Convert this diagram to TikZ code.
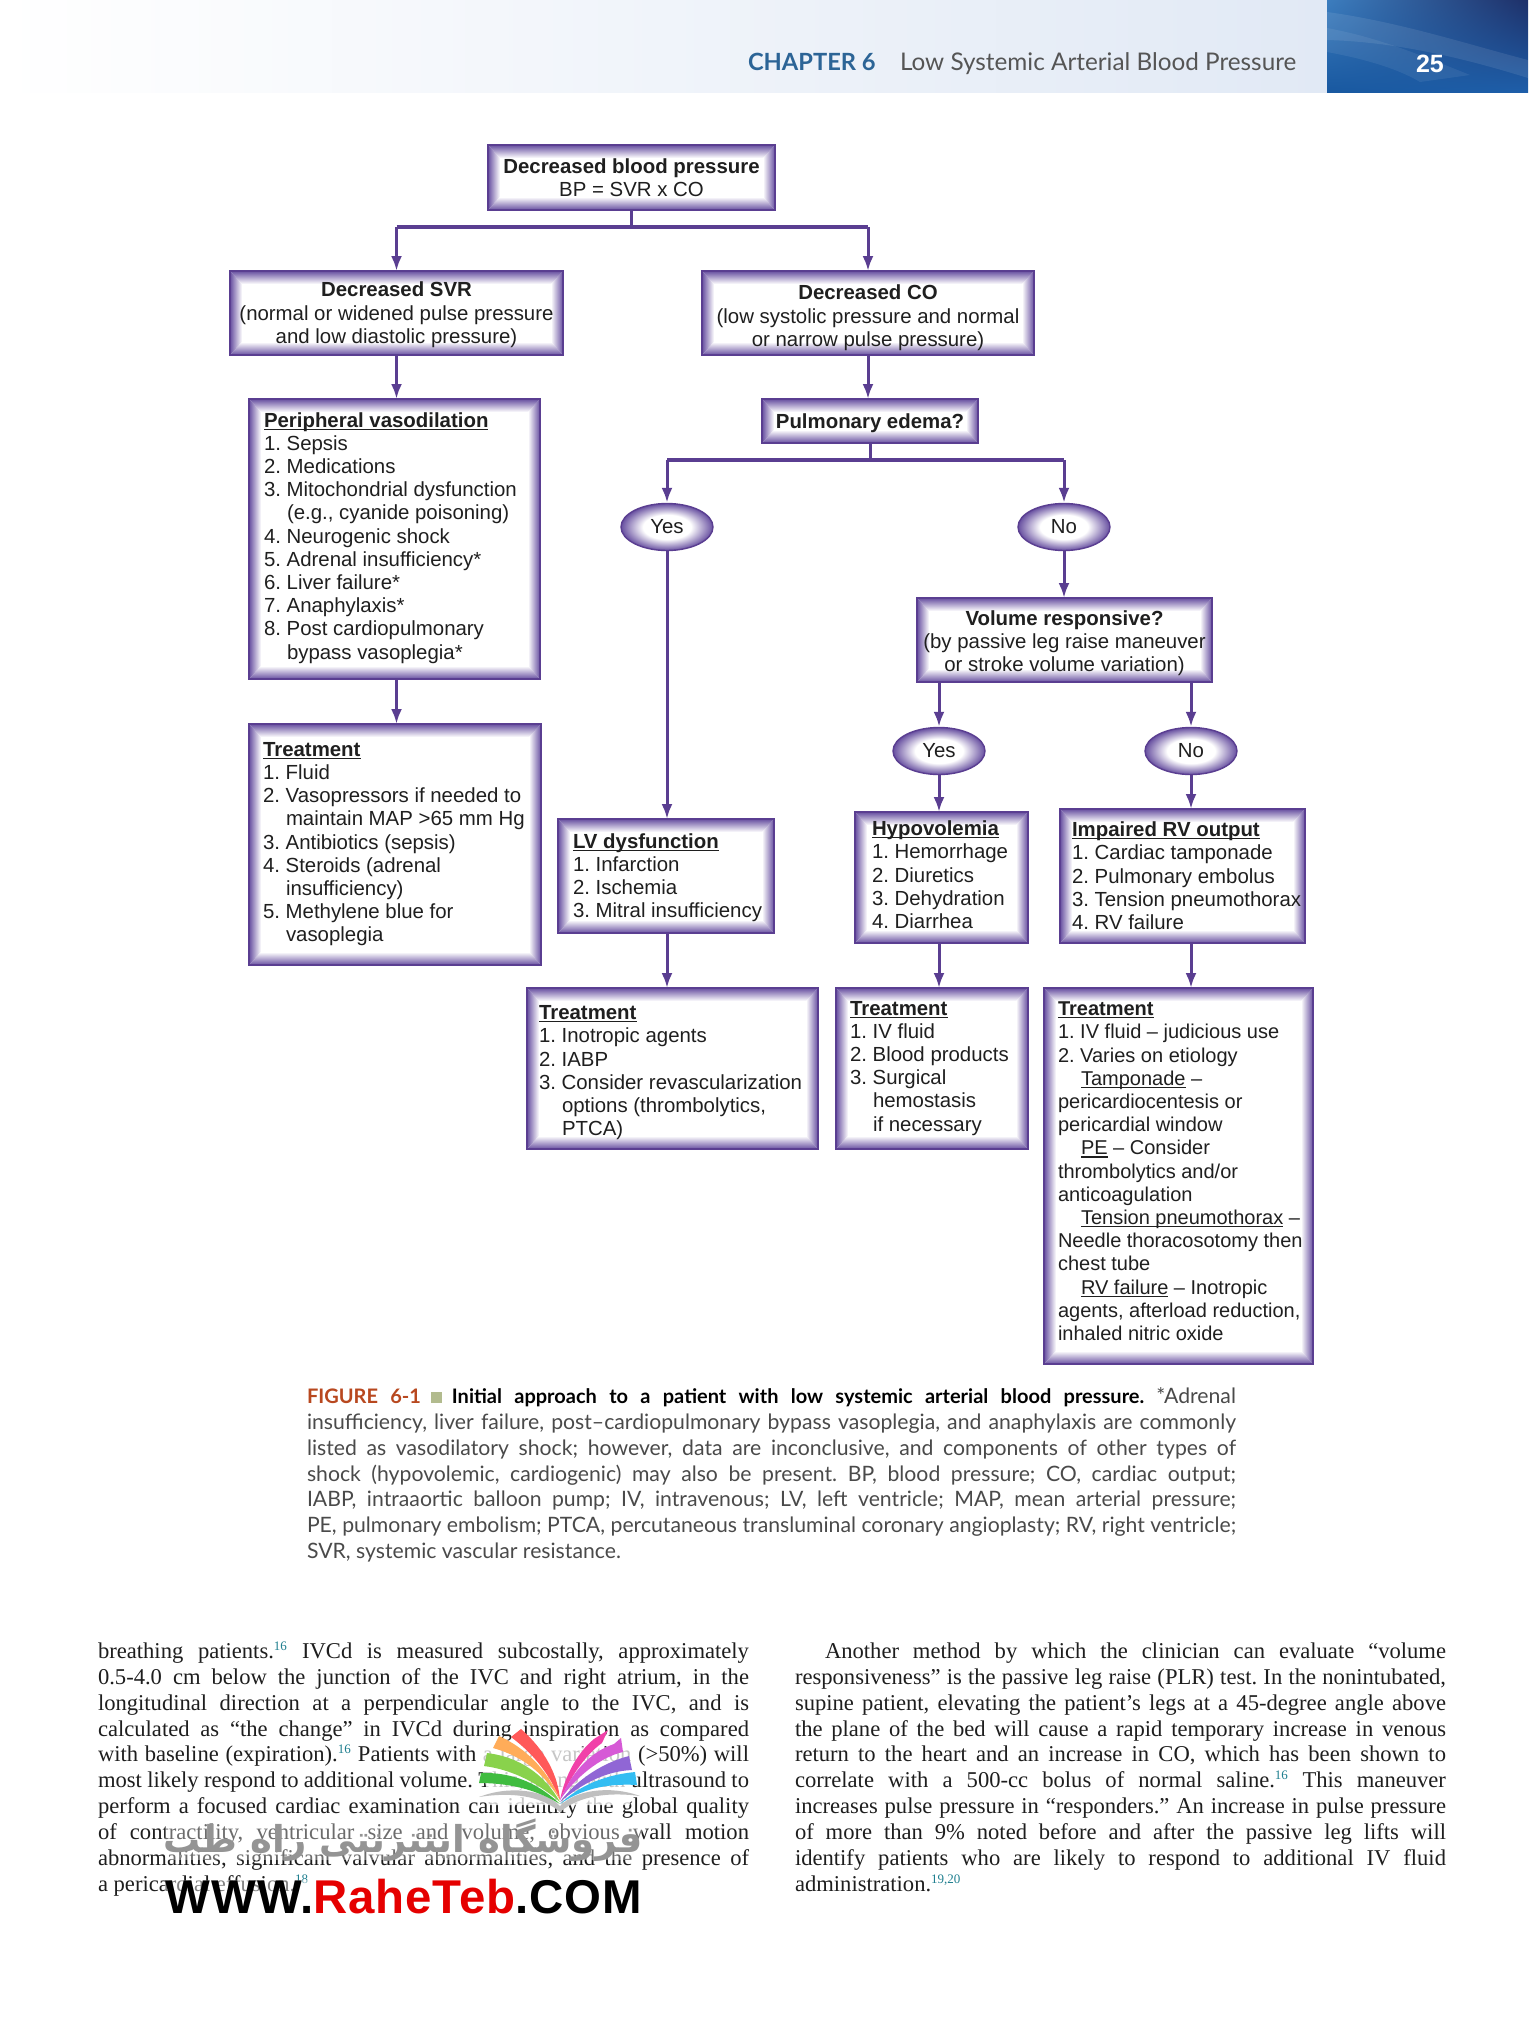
\documentclass[tikz,border=0pt]{standalone}
\usepackage{fontspec}
\setmainfont{Liberation Sans}
\newfontfamily\bodyf{Liberation Serif}
\newfontfamily\capf{Lato}
\newfontfamily\arabicfont[Script=Arabic]{DejaVu Sans}
\TeXXeTstate=1
\frenchspacing
\usetikzlibrary{arrows.meta,shapes.geometric,shadings}
\definecolor{boxb}{HTML}{5A3E91}
\definecolor{boxm}{HTML}{674FA0}
\definecolor{hdr}{HTML}{E1E9F5}
\definecolor{chap}{HTML}{2C6496}
\definecolor{low}{HTML}{555555}
\definecolor{figr}{HTML}{B8481F}
\definecolor{figs}{HTML}{B2BB8E}
\definecolor{capg}{HTML}{4A4A4A}
\definecolor{teal2}{HTML}{1F7F8F}
\definecolor{bodyk}{HTML}{1E1E1E}
\definecolor{blll}{HTML}{1858A0}
\definecolor{blul}{HTML}{3C7DBE}
\definecolor{bllr}{HTML}{1E5FAA}
\definecolor{blur}{HTML}{1E3069}
\pgfdeclareradialshading{ovalsh}{\pgfpointorigin}{color(0bp)=(white);color(13bp)=(white);color(25bp)=(boxm);color(50bp)=(boxm)}
\newcommand\myul[1]{\leavevmode\setbox0=\hbox{#1}\rlap{\rule[-2.6pt]{\wd0}{1.2pt}}\box0\relax}
\newcommand\hang{\hspace*{23pt}}
\newcommand\supn[1]{\textsuperscript{\textcolor{teal2}{\fontsize{13}{13}\selectfont #1}}}
\newcommand\gbf{}
\tikzset{
 x=1pt,y=-1pt,
 gbox/.style={draw=boxb,line width=1.4pt,fill=white,inner sep=0pt,outer sep=0pt,
  path picture={
   \coordinate (nw) at (path picture bounding box.north west);
   \coordinate (ne) at (path picture bounding box.north east);
   \coordinate (sw) at (path picture bounding box.south west);
   \coordinate (se) at (path picture bounding box.south east);
   \shade[left color=boxm,right color=white] (nw)--(sw)--([shift={(12,-13)}]sw)--([shift={(12,13)}]nw)--cycle;
   \shade[right color=boxm,left color=white] (ne)--(se)--([shift={(-12,-13)}]se)--([shift={(-12,13)}]ne)--cycle;
   \shade[top color=boxm,bottom color=white] (nw)--(ne)--([shift={(-12,13)}]ne)--([shift={(12,13)}]nw)--cycle;
   \shade[bottom color=boxm,top color=white] (sw)--(se)--([shift={(-12,-13)}]se)--([shift={(12,-13)}]sw)--cycle;
  }},
 gtext/.style={inner sep=0pt,outer sep=0pt,font=\fontsize{20.4}{23.2}\selectfont,text=black!88},
 oval/.style={ellipse,draw=boxb,line width=1.4pt,shade,shading=ovalsh,inner sep=0pt,
  minimum width=92pt,minimum height=47pt,font=\fontsize{20.4}{23.2}\selectfont,text=black!88},
 flow/.style={draw=boxb,line width=3pt},
 busl/.style={draw=boxb,line width=4pt},
 arr/.style={draw=boxb,line width=3pt,-{Latex[length=15pt,width=11pt]}},
 capt/.style={inner sep=0pt,outer sep=0pt,font=\capf\fontsize{21.2}{25}\selectfont,text=capg},
 bodyl/.style={inner sep=0pt,outer sep=0pt,font=\bodyf\fontsize{22.6}{26}\selectfont,text=bodyk},
 wm/.style={inner sep=0pt,outer sep=0pt},
 hdrt/.style={inner sep=0pt,outer sep=0pt,anchor=base west},
}
% name x1 y1 x2 y2 pad align(l/c) lines downshift
\newcommand\gb[9]{\pgfmathsetlengthmacro\gbw{(#4-#2-2*#6)*1pt}\node[gbox,minimum width={(#4-#2)*1pt},minimum height={(#5-#3)*1pt}] (#1) at ({(#2+#4)/2},{(#3+#5)/2}) {};
 \node[gtext] (#1t) at ([shift={(0,#9)}]#1.center) {\makebox[\gbw][#7]{\gbf\begin{tabular}{@{}#7@{}}#8\end{tabular}}};}
\newcommand\bl[4]{\node[bodyl,anchor=base west] (#1) at (#2,#3) {\makebox[651pt][s]{\spaceskip=.25em plus 1em minus .08em #4}};}
\newcommand\bi[4]{\node[bodyl,anchor=base west] (#1) at (#2,#3) {\makebox[621pt][s]{\spaceskip=.25em plus 1em minus .08em #4}};}
\newcommand\cl[3]{\node[capt,anchor=base west] (#1) at (307,#2) {\makebox[929pt][s]{\spaceskip=.25em plus 1em minus .08em #3}};}
\begin{document}
\begin{tikzpicture}
\useasboundingbox (0,0) rectangle (1528,2020);
\fill[white] (0,0) rectangle (1528,2020);
% header
\shade[left color=white,right color=hdr] (0,0) rectangle (1327,93);
\shade[lower left=blll,upper left=blul,lower right=bllr,upper right=blur] (1327,0) rectangle (1528,93);
\begin{scope}
\clip (1327,0) rectangle (1528,93);
\fill[white,opacity=.09] (1327,12) .. controls (1400,22) and (1470,45) .. (1528,60) -- (1528,78) .. controls (1470,60) and (1400,42) .. (1327,40) -- cycle;
\fill[white,opacity=.07] (1327,28) .. controls (1380,38) and (1420,55) .. (1470,75) -- (1420,82) .. controls (1400,70) and (1370,60) .. (1327,52) -- cycle;
\end{scope}
\node[hdrt,text=chap,font=\capf\bfseries\fontsize{23.7}{25}\selectfont] (chapter) at (748,71) {CHAPTER 6};
\node[hdrt,text=low,font=\capf\fontsize{24.3}{25}\selectfont] (htitle) at (900,71) {Low Systemic Arterial Blood Pressure};
\node[hdrt,text=white,font=\bfseries\fontsize{25}{25}\selectfont] (pageno) at (1416,73) {25};
% boxes
\gb{top}{488}{145}{775}{210}{4}{c}{\textbf{Decreased blood pressure}\\BP = SVR x CO}{2.5}
\gb{svr}{230}{271}{563}{355}{3}{c}{\textbf{Decreased SVR}\\(normal or widened pulse pressure\\and low diastolic pressure)}{2.5}
\gb{co}{702}{271}{1034}{355}{3}{c}{\textbf{Decreased CO}\\(low systolic pressure and normal\\or narrow pulse pressure)}{5.5}
\gb{periph}{249}{399}{540}{679}{15}{l}{\myul{\textbf{Peripheral vasodilation}}\\1. Sepsis\\2. Medications\\3. Mitochondrial dysfunction\\\hang(e.g., cyanide poisoning)\\4. Neurogenic shock\\5. Adrenal insufficiency*\\6. Liver failure*\\7. Anaphylaxis*\\8. Post cardiopulmonary\\\hang bypass vasoplegia*}{-0.5}
\gb{pulm}{762}{399}{978}{443}{3}{c}{\textbf{Pulmonary edema?}}{2.5}
\gb{tperiph}{249}{724}{541}{965}{14}{l}{\myul{\textbf{Treatment}}\\1. Fluid\\2. Vasopressors if needed to\\\hang maintain MAP >65 mm Hg\\3. Antibiotics (sepsis)\\4. Steroids (adrenal\\\hang insufficiency)\\5. Methylene blue for\\\hang vasoplegia}{0}
\gb{lv}{558}{819}{774}{933}{15}{l}{\myul{\textbf{LV dysfunction}}\\1. Infarction\\2. Ischemia\\3. Mitral insufficiency}{2.5}
\gb{tlv}{527}{988}{818}{1149}{12}{l}{\myul{\textbf{Treatment}}\\1. Inotropic agents\\2. IABP\\3. Consider revascularization\\\hang options (thrombolytics,\\\hang PTCA)}{4.5}
\gb{vol}{917}{598}{1212}{682}{3}{c}{\textbf{Volume responsive?}\\(by passive leg raise maneuver\\or stroke volume variation)}{4}
\gb{hypo}{855}{812}{1028}{943}{17}{l}{\myul{\textbf{Hypovolemia}}\\1. Hemorrhage\\2. Diuretics\\3. Dehydration\\4. Diarrhea}{0}
\gb{rv}{1060}{809}{1305}{943}{12}{l}{\myul{\textbf{Impaired RV output}}\\1. Cardiac tamponade\\2. Pulmonary embolus\\3. Tension pneumothorax\\4. RV failure}{2.5}
\gb{thypo}{836}{988}{1028}{1149}{14}{l}{\myul{\textbf{Treatment}}\\1. IV fluid\\2. Blood products\\3. Surgical\\\hang hemostasis\\\hang if necessary}{0}
\renewcommand\gbf{\fontsize{20}{23.2}\selectfont}
\gb{trv}{1044}{988}{1313}{1364}{14}{l}{\myul{\textbf{Treatment}}\\1. IV fluid -- judicious use\\2. Varies on etiology\\\hang\myul{Tamponade} --\\pericardiocentesis or\\pericardial window\\\hang\myul{PE} -- Consider\\thrombolytics and/or\\anticoagulation\\\hang\myul{Tension pneumothorax} --\\Needle thoracosotomy then\\chest tube\\\hang\myul{RV failure} -- Inotropic\\agents, afterload reduction,\\inhaled nitric oxide}{-2.5}
% ovals
\node[oval] (yes1) at (667,527) {Yes};
\node[oval] (no1) at (1064,527) {No};
\node[oval] (yes2) at (939,751) {Yes};
\node[oval] (no2) at (1191,751) {No};
% connectors
\coordinate (busa) at (631,227);
\draw[flow] (top.south) -- (top.south |- busa);
\draw[busl] (svr.north |- busa) -- (co.north |- busa);
\draw[arr] (svr.north |- busa) -- (svr.north);
\draw[arr] (co.north |- busa) -- (co.north);
\draw[arr] (svr.south) -- (svr.south |- periph.north);
\draw[arr] (co.south) -- (co.south |- pulm.north);
\coordinate (busb) at (870,460);
\draw[flow] (pulm.south) -- (pulm.south |- busb);
\draw[busl] (yes1.north |- busb) -- (no1.north |- busb);
\draw[arr] (yes1.north |- busb) -- (yes1.north);
\draw[arr] (no1.north |- busb) -- (no1.north);
\draw[arr] (yes1.south) -- (yes1.south |- lv.north);
\draw[arr] (no1.south) -- (no1.south |- vol.north);
\draw[arr] (periph.south -| svr.south) -- (svr.south |- tperiph.north);
\draw[arr] (yes1.south |- lv.south) -- (yes1.south |- tlv.north);
\draw[arr] (yes2.north |- vol.south) -- (yes2.north);
\draw[arr] (no2.north |- vol.south) -- (no2.north);
\draw[arr] (yes2.south) -- (yes2.south |- hypo.north);
\draw[arr] (no2.south) -- (no2.south |- rv.north);
\draw[arr] (yes2.south |- hypo.south) -- (yes2.south |- thypo.north);
\draw[arr] (no2.south |- rv.south) -- (no2.south |- trv.north);
% caption
\cl{c1}{1403}{{\fontsize{20}{25}\selectfont\textbf{\textcolor{figr}{FIGURE 6-1}}\hspace{10pt}\textcolor{figs}{\rule{11pt}{11pt}}\hspace{10pt}\textbf{\textcolor{black}{Initial approach to a patient with low systemic arterial blood pressure.}}} *Adrenal}
\cl{c2}{1429}{insufficiency, liver failure, post–cardiopulmonary bypass vasoplegia, and anaphylaxis are commonly}
\cl{c3}{1455}{listed as vasodilatory shock; however, data are inconclusive, and components of other types of}
\cl{c4}{1481}{shock (hypovolemic, cardiogenic) may also be present. BP, blood pressure; CO, cardiac output;}
\cl{c5}{1506}{IABP, intraaortic balloon pump; IV, intravenous; LV, left ventricle; MAP, mean arterial pressure;}
\cl{c6}{1532}{PE, pulmonary embolism; PTCA, percutaneous transluminal coronary angioplasty; RV, right ventricle;}
\node[capt,anchor=base west] (c7) at (307,1558) {SVR, systemic vascular resistance.};
% body left
\bl{l1}{98}{1658}{breathing patients.\supn{16} IVCd is measured subcostally, approximately}
\bl{l2}{98}{1684}{0.5-4.0 cm below the junction of the IVC and right atrium, in the}
\bl{l3}{98}{1710}{longitudinal direction at a perpendicular angle to the IVC, and is}
\bl{l4}{98}{1736}{calculated as “the change” in IVCd during inspiration as compared}
\bl{l5}{98}{1761}{with baseline (expiration).\supn{16} Patients with a large variation (>50\%) will}
\bl{l6}{98}{1787}{most likely respond to additional volume. This, along with ultrasound to}
\bl{l7}{98}{1813}{perform a focused cardiac examination can identify the global quality}
\bl{l8}{98}{1839}{of contractility, ventricular size and volume, obvious wall motion}
\bl{l9}{98}{1865}{abnormalities, significant valvular abnormalities, and the presence of}
\node[bodyl,anchor=base west] (l10) at (98,1891) {a pericardial effusion.\supn{18}};
% body right
\bi{r1}{825}{1658}{Another method by which the clinician can evaluate “volume}
\bl{r2}{795}{1684}{responsiveness” is the passive leg raise (PLR) test. In the nonintubated,}
\bl{r3}{795}{1710}{supine patient, elevating the patient’s legs at a 45-degree angle above}
\bl{r4}{795}{1736}{the plane of the bed will cause a rapid temporary increase in venous}
\bl{r5}{795}{1761}{return to the heart and an increase in CO, which has been shown to}
\bl{r6}{795}{1787}{correlate with a 500-cc bolus of normal saline.\supn{16} This maneuver}
\bl{r7}{795}{1813}{increases pulse pressure in “responders.” An increase in pulse pressure}
\bl{r8}{795}{1839}{of more than 9\% noted before and after the passive leg lifts will}
\bl{r9}{795}{1865}{identify patients who are likely to respond to additional IV fluid}
\node[bodyl,anchor=base west] (r10) at (795,1891) {administration.\supn{19,20}};
% watermark
\fill[white,opacity=.75] (478,1750) .. controls (520,1745) and (600,1745) .. (638,1750) -- (630,1805) -- (490,1805) -- cycle;
\fill[white,opacity=.35] (165,1822) rectangle (642,1860);
\fill[white,opacity=.45] (165,1880) rectangle (642,1916);
\fill[black!25] (479,1797) .. controls (510,1785) and (545,1790) .. (560,1806) .. controls (575,1790) and (610,1785) .. (640,1796) .. controls (610,1792) and (580,1795) .. (560,1812) .. controls (540,1795) and (510,1792) .. (479,1797) -- cycle;
\fill[red!65!white] (511,1737) -- (521,1729) .. controls (545,1750) and (558,1775) .. (560,1800) .. controls (550,1775) and (535,1755) .. (511,1737) -- cycle;
\fill[orange!65!white] (493,1748) -- (499,1736) .. controls (530,1750) and (550,1775) .. (560,1800) .. controls (545,1775) and (525,1757) .. (493,1748) -- cycle;
\fill[green!55!yellow!75!black!70!white] (484,1766) -- (487,1753) .. controls (520,1757) and (545,1775) .. (560,1802) .. controls (540,1785) and (515,1770) .. (484,1766) -- cycle;
\fill[green!65!black!75!white] (479,1783) -- (481,1773) .. controls (515,1772) and (540,1785) .. (560,1804) .. controls (540,1792) and (515,1783) .. (479,1783) -- cycle;
\fill[magenta!75!white] (594,1739) -- (608,1730) -- (602,1743) .. controls (585,1755) and (570,1778) .. (560,1800) .. controls (565,1775) and (578,1752) .. (594,1739) -- cycle;
\fill[violet!50!magenta!65!white] (614,1744) -- (621,1738) -- (623,1752) .. controls (600,1757) and (575,1778) .. (560,1800) .. controls (572,1772) and (590,1752) .. (614,1744) -- cycle;
\fill[blue!45!violet!60!white] (629,1756) -- (632,1770) .. controls (605,1771) and (580,1785) .. (560,1802) .. controls (578,1778) and (605,1762) .. (629,1756) -- cycle;
\fill[cyan!80!white] (635,1772) -- (637,1785) .. controls (605,1783) and (580,1790) .. (560,1804) .. controls (580,1785) and (605,1775) .. (635,1772) -- cycle;
\node[wm,text=black!42,font=\arabicfont\bfseries\fontsize{37}{38}\selectfont,anchor=center] (wmfa) at (403,1840) {\beginR فروشگاه اینترنتی راه طب\endR};
\node[wm,font=\bfseries\fontsize{47.4}{48}\selectfont,anchor=center] (wmen) at (404,1897) {\addfontfeature{LetterSpace=2}WWW.\textcolor{red!90!black}{RaheTeb}.COM};
\end{tikzpicture}
\end{document}
